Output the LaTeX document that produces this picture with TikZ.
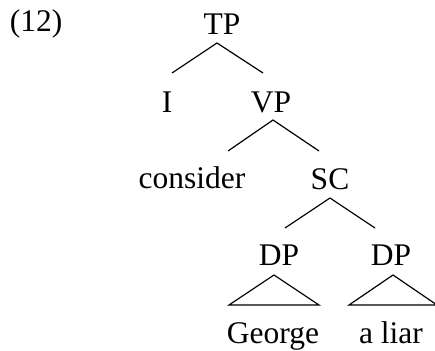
\documentclass[tikz,border=0pt]{standalone}
\usepackage{fontspec}
\setmainfont{Liberation Serif}
\usetikzlibrary{calc}
\begin{document}
\begin{tikzpicture}[x=1pt,y=-1pt,
  lbl/.style={anchor=base,inner sep=0pt,font=\fontsize{31.5}{36}\selectfont},
  br/.style={line width=1.2pt,line join=miter}]
\useasboundingbox (0,0) rectangle (435,350);
\node[lbl] (ex) at (36,32) {(12)};
\node[lbl] (TP) at (222,35) {TP};
\node[lbl] (I) at (167,112) {I};
\node[lbl] (VP) at (271,112) {VP};
\node[lbl] (V) at (192,188) {consider};
\node[lbl] (SC) at (330,189) {SC};
\node[lbl] (DPa) at (279,265) {DP};
\node[lbl] (DPb) at (391,265) {DP};
\node[lbl] (G) at (273,343) {George};
\node[lbl] (L) at (391,343) {a liar};
% branches
\draw[br] ($(I.base)+(5,-39)$) -- ($(TP.base)+(-5,8)$) -- ($(VP.base)+(-8,-39)$);
\draw[br] ($(V.base)+(36,-37)$) -- ($(VP.base)+(2,8)$) -- ($(SC.base)+(-11,-38)$);
\draw[br] ($(DPa.base)+(6,-37)$) -- ($(SC.base)+(0,9)$) -- ($(DPb.base)+(-16,-37)$);
% triangles
\draw[br] ($(G.base)+(-44,-38)$) -- ($(DPa.base)+(-5,10)$) -- ($(G.base)+(46,-38)$) -- cycle;
\draw[br] ($(L.base)+(-42,-38)$) -- ($(DPb.base)+(2,10)$) -- ($(L.base)+(46,-38)$) -- cycle;
\end{tikzpicture}
\end{document}
